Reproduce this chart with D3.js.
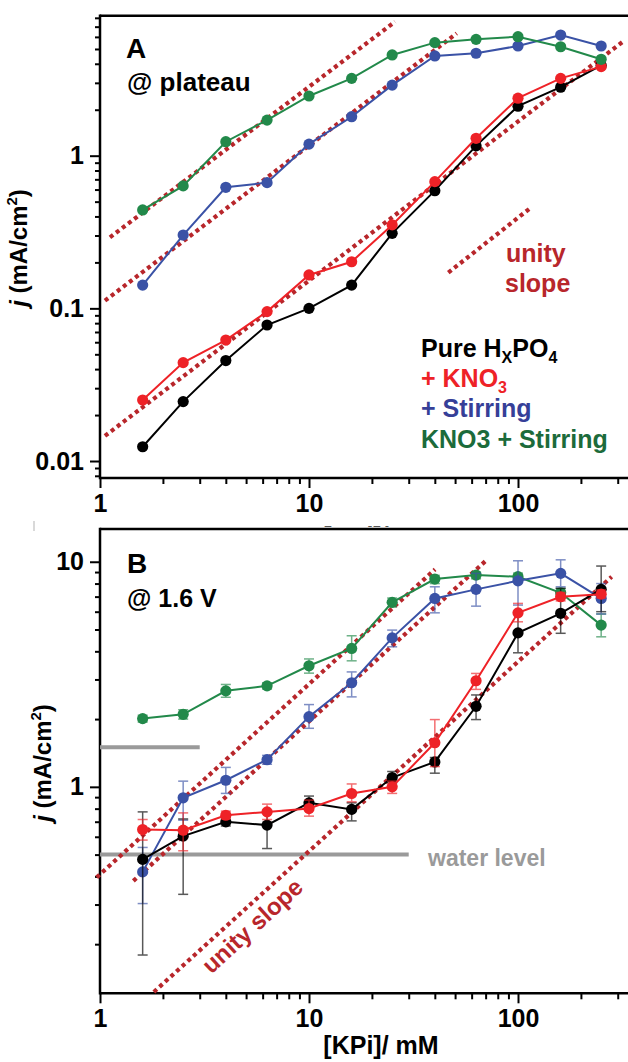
<!DOCTYPE html>
<html><head><meta charset="utf-8">
<script src="https://cdn.jsdelivr.net/npm/d3@7"></script>
<style>
body{margin:0;background:#fff}
svg{display:block}
text{font-family:"Liberation Sans",Arial,sans-serif;font-weight:bold}
</style>
</head><body>
<svg id="c" width="628" height="1062"></svg>
<script>
// ---------- DATA ----------
const concentrations = [1.6, 2.5, 4, 6.3, 10, 16, 25, 40, 63, 100, 160, 250];

// Panel A (@ plateau)
const plateauPure     = [0.0124, 0.0245, 0.0455, 0.0778, 0.100, 0.142, 0.31, 0.59, 1.16, 2.11, 2.81, 3.9];
const plateauKNO3     = [0.0251, 0.0441, 0.062, 0.0952, 0.1655, 0.202, 0.352, 0.676, 1.30, 2.38, 3.21, 3.83];
const plateauStir     = [0.142, 0.302, 0.621, 0.666, 1.19, 1.80, 2.90, 4.50, 4.69, 5.23, 6.17, 5.23];
const plateauKNO3Stir = [0.441, 0.634, 1.235, 1.71, 2.46, 3.21, 4.57, 5.50, 5.78, 6.02, 5.17, 4.28];

// Panel B (@ 1.6 V): values, lower and upper error limits
const v16Pure       = [0.476, 0.604, 0.699, 0.676, 0.849, 0.794, 1.10, 1.29, 2.28, 4.83, 5.90, 7.54];
const v16PureLo     = [0.179, 0.333, 0.67, 0.532, 0.80, 0.706, 1.04, 1.15, 1.99, 3.94, 4.81, 6.0];
const v16PureHi     = [0.774, 0.72, 0.73, 0.78, 0.91, 0.849, 1.17, 1.35, 2.56, 6.0, 7.62, 9.57];
const v16KNO3       = [0.646, 0.642, 0.748, 0.774, 0.801, 0.934, 1.00, 1.57, 2.96, 5.93, 6.99, 7.18];
const v16KNO3Lo     = [0.580, 0.52, 0.72, 0.716, 0.741, 0.858, 0.935, 1.23, 2.71, 5.41, 6.7, 6.9];
const v16KNO3Hi     = [0.716, 0.766, 0.78, 0.838, 0.873, 1.03, 1.06, 1.99, 3.19, 6.53, 7.3, 7.5];
const v16Stir       = [0.419, 0.894, 1.07, 1.32, 2.05, 2.90, 4.59, 6.87, 7.54, 8.23, 8.88, 6.87];
const v16StirLo     = [0.303, 0.711, 0.935, 1.26, 1.82, 2.51, 4.19, 5.93, 6.35, 6.42, 7.74, 5.86];
const v16StirHi     = [0.538, 1.06, 1.22, 1.38, 2.32, 3.24, 4.97, 7.74, 8.88, 10.1, 10.2, 8.0];
const v16KNO3Stir   = [2.01, 2.10, 2.67, 2.81, 3.45, 4.12, 6.60, 8.38, 8.73, 8.58, 7.28, 5.23];
const v16KNO3StirLo = [1.94, 2.0, 2.5, 2.72, 3.2, 3.63, 6.3, 8.0, 8.4, 8.2, 6.9, 4.64];
const v16KNO3StirHi = [2.08, 2.2, 2.85, 2.9, 3.7, 4.69, 6.9, 8.7, 9.0, 8.9, 7.6, 5.86];

// Unity-slope guide segments [x1, y1, x2, y2]
const guidesA = [[1.116, 0.292, 25.8, 7.54], [1.056, 0.1123, 50.9, 6.33], [1.056, 0.0146, 325, 5.72], [46.4, 0.1714, 114.1, 0.452]];
const guidesB = [[0.964, 0.396, 40.1, 9.25], [1.444, 0.382, 70.8, 10.18], [1.81, 0.1227, 280.7, 8.58]];
// Water level lines [x1, x2, y]
const waterLines = [[1, 3, 1.5], [1, 30, 0.5]];

// Ticks
const xMajor = [1, 10, 100];
const xMajorLabels = ["1", "10", "100"];
const xMinor = [2, 3, 4, 5, 6, 7, 8, 9, 20, 30, 40, 50, 60, 70, 80, 90, 200, 300];
const yMajorA = [0.01, 0.1, 1];
const yMajorALabels = ["0.01", "0.1", "1"];
const yMinorA = [0.008, 0.009, 0.02, 0.03, 0.04, 0.05, 0.06, 0.07, 0.08, 0.09, 0.2, 0.3, 0.4, 0.5, 0.6, 0.7, 0.8, 0.9, 2, 3, 4, 5, 6, 7, 8];
const yMajorB = [1, 10];
const yMajorBLabels = ["1", "10"];
const yMinorB = [0.2, 0.3, 0.4, 0.5, 0.6, 0.7, 0.8, 0.9, 2, 3, 4, 5, 6, 7, 8, 9];

// ---------- STYLE ----------
const C = {black: "#000000", red: "#ee2227", blue: "#3a52a6", green: "#22894a"};
const legendColors = {black: "#000000", red: "#ee2227", blue: "#363f98", green: "#1c6b3b"};
const guideColor = "#b8262b";
const grey = "#9a9a9a";

const svg = d3.select("#c");
const W = 628;

const x = d3.scaleLog().domain([1, 400]).range([100, 100 + 209 * Math.log10(400)]);
const yA = d3.scaleLog().domain([0.00774, 8.26]).range([478, 15.7]);
const yB = d3.scaleLog().domain([0.121, 13.98]).range([993.3, 529]);

function drawAxes(y, yMaj, yMajLab, yMin, xAxisY, topY) {
  const g = svg.append("g");
  g.append("g").attr("transform", `translate(0,${xAxisY})`)
    .call(d3.axisBottom(x).tickValues(xMinor).tickSize(6).tickFormat(""))
    .call(s => s.select(".domain").remove())
    .call(s => s.selectAll("line").attr("stroke-width", 2));
  const xa = g.append("g").attr("transform", `translate(0,${xAxisY})`)
    .call(d3.axisBottom(x).tickValues(xMajor).tickSize(10).tickPadding(6)
      .tickFormat((d, i) => xMajorLabels[i]))
    .call(s => s.select(".domain").remove())
    .call(s => s.selectAll("line").attr("stroke-width", 2));
  xa.selectAll("text").attr("font-size", 25).attr("fill", "#000")
    .attr("font-family", '"Liberation Sans",Arial,sans-serif').attr("font-weight", "bold");
  g.append("g").attr("transform", "translate(100,0)")
    .call(d3.axisLeft(y).tickValues(yMin).tickSize(5).tickFormat(""))
    .call(s => s.select(".domain").remove())
    .call(s => s.selectAll("line").attr("stroke-width", 2));
  const ya = g.append("g").attr("transform", "translate(100,0)")
    .call(d3.axisLeft(y).tickValues(yMaj).tickSize(10).tickPadding(6)
      .tickFormat((d, i) => yMajLab[i]))
    .call(s => s.select(".domain").remove())
    .call(s => s.selectAll("line").attr("stroke-width", 2));
  ya.selectAll("text").attr("font-size", 25).attr("fill", "#000")
    .attr("font-family", '"Liberation Sans",Arial,sans-serif').attr("font-weight", "bold");
  g.append("line").attr("x1", 100).attr("x2", W).attr("y1", xAxisY).attr("y2", xAxisY).attr("stroke", "#000").attr("stroke-width", 2.5);
  g.append("line").attr("x1", 100).attr("x2", W).attr("y1", topY).attr("y2", topY).attr("stroke", "#000").attr("stroke-width", 2.5);
  g.append("line").attr("x1", 100).attr("x2", 100).attr("y1", topY - 1.2).attr("y2", xAxisY + 1.2).attr("stroke", "#000").attr("stroke-width", 2.5);
}

function drawGuides(y, guides) {
  svg.append("g").selectAll("line").data(guides).join("line")
    .attr("x1", d => x(d[0])).attr("y1", d => y(d[1]))
    .attr("x2", d => x(d[2])).attr("y2", d => y(d[3]))
    .attr("stroke", guideColor).attr("stroke-width", 4.2)
    .attr("stroke-dasharray", "4,3.6");
}

function drawSeries(y, vals, color, lo, hi) {
  const g = svg.append("g");
  const pts = concentrations.map((c, i) => ({c, v: vals[i], lo: lo ? lo[i] : null, hi: hi ? hi[i] : null}));
  if (lo) {
    const eb = g.append("g").attr("stroke", color).attr("stroke-width", 1.5).attr("opacity", 0.65);
    pts.forEach(p => {
      eb.append("line").attr("x1", x(p.c)).attr("x2", x(p.c)).attr("y1", y(p.lo)).attr("y2", y(p.hi));
      eb.append("line").attr("x1", x(p.c) - 5).attr("x2", x(p.c) + 5).attr("y1", y(p.lo)).attr("y2", y(p.lo));
      eb.append("line").attr("x1", x(p.c) - 5).attr("x2", x(p.c) + 5).attr("y1", y(p.hi)).attr("y2", y(p.hi));
    });
  }
  g.append("path").datum(pts)
    .attr("d", d3.line().x(d => x(d.c)).y(d => y(d.v)))
    .attr("fill", "none").attr("stroke", color).attr("stroke-width", 2);
  g.selectAll("circle").data(pts).join("circle")
    .attr("cx", d => x(d.c)).attr("cy", d => y(d.v)).attr("r", 5.6).attr("fill", color);
}

function yLabel(cx, cy) {
  const t = svg.append("text").attr("transform", `translate(${cx},${cy}) rotate(-90)`)
    .attr("text-anchor", "middle").attr("font-size", 24).attr("fill", "#000");
  t.append("tspan").attr("font-style", "italic").text("j");
  t.append("tspan").text(" (mA/cm");
  t.append("tspan").attr("font-size", 15).attr("dy", -10).text("2");
  t.append("tspan").attr("dy", 10).text(")");
}

// ---------- PANEL A ----------
svg.append("clipPath").attr("id", "clipA").append("rect").attr("x", 0).attr("y", 0).attr("width", W).attr("height", 527);
svg.append("text").attr("clip-path", "url(#clipA)").attr("x", 381).attr("y", 545)
  .attr("text-anchor", "middle").attr("font-size", 25).attr("fill", "#555").text("[KPi]/ mM");

drawAxes(yA, yMajorA, yMajorALabels, yMinorA, 478, 15.7);
drawGuides(yA, guidesA);
drawSeries(yA, plateauPure, C.black);
drawSeries(yA, plateauKNO3, C.red);
drawSeries(yA, plateauStir, C.blue);
drawSeries(yA, plateauKNO3Stir, C.green);
yLabel(27, 248);

svg.append("text").attr("x", 126).attr("y", 58).attr("font-size", 28).text("A");
svg.append("text").attr("x", 127).attr("y", 91).attr("font-size", 26).text("@ plateau");
svg.append("text").attr("x", 506).attr("y", 262).attr("font-size", 25).attr("fill", guideColor).text("unity");
svg.append("text").attr("x", 505).attr("y", 292).attr("font-size", 25).attr("fill", guideColor).text("slope");

// legend
const lg = svg.append("g").attr("font-size", 25);
const l1 = lg.append("text").attr("x", 421).attr("y", 357).attr("fill", legendColors.black);
l1.append("tspan").text("Pure H");
l1.append("tspan").attr("font-size", 16).attr("dy", 6).text("X");
l1.append("tspan").attr("dy", -6).text("PO");
l1.append("tspan").attr("font-size", 16).attr("dy", 6).text("4");
const l2 = lg.append("text").attr("x", 421).attr("y", 387).attr("fill", legendColors.red);
l2.append("tspan").text("+ KNO");
l2.append("tspan").attr("font-size", 16).attr("dy", 6).text("3");
lg.append("text").attr("x", 421).attr("y", 417).attr("fill", legendColors.blue).text("+ Stirring");
lg.append("text").attr("x", 421).attr("y", 448).attr("fill", legendColors.green).text("KNO3 + Stirring");

// ---------- PANEL B ----------
svg.append("line").attr("x1", 34).attr("x2", 34).attr("y1", 521).attr("y2", 531).attr("stroke", "#ccc").attr("stroke-width", 1.5);
drawAxes(yB, yMajorB, yMajorBLabels, yMinorB, 993.3, 529);
svg.append("g").selectAll("line").data(waterLines).join("line")
  .attr("x1", d => x(d[0])).attr("x2", d => x(d[1])).attr("y1", d => yB(d[2])).attr("y2", d => yB(d[2]))
  .attr("stroke", grey).attr("stroke-width", 4);
svg.append("text").attr("x", 428).attr("y", 866).attr("font-size", 23).attr("fill", grey).text("water level");
drawGuides(yB, guidesB);
drawSeries(yB, v16KNO3Stir, C.green, v16KNO3StirLo, v16KNO3StirHi);
drawSeries(yB, v16Stir, C.blue, v16StirLo, v16StirHi);
drawSeries(yB, v16Pure, C.black, v16PureLo, v16PureHi);
drawSeries(yB, v16KNO3, C.red, v16KNO3Lo, v16KNO3Hi);
yLabel(51, 763);

svg.append("text").attr("x", 127).attr("y", 573).attr("font-size", 28).text("B");
svg.append("text").attr("x", 127).attr("y", 607).attr("font-size", 25).text("@ 1.6 V");
svg.append("text").attr("transform", "translate(258,932) rotate(-42.5)").attr("text-anchor", "middle")
  .attr("font-size", 24).attr("fill", guideColor).text("unity slope");

svg.append("text").attr("x", 381).attr("y", 1054).attr("text-anchor", "middle").attr("font-size", 25).text("[KPi]/ mM");
</script>
</body></html>
